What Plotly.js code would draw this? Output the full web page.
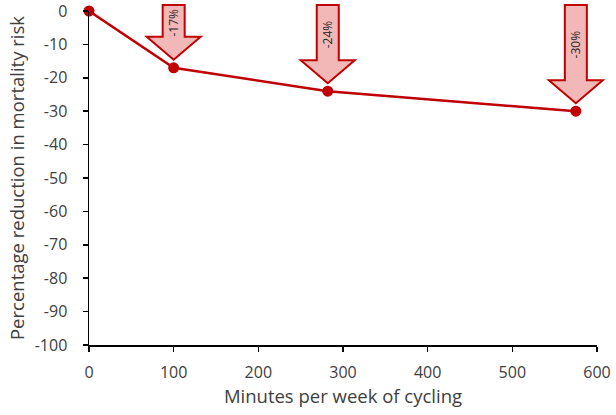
<!DOCTYPE html>
<html>
<head>
<meta charset="utf-8">
<script src="https://cdn.plot.ly/plotly-3.0.1.min.js"></script>
<style>html,body{margin:0;padding:0;background:#fff}#chart{width:616px;height:415px}</style>
</head>
<body>
<div id="chart"></div>
<script>
// Data
const minutes = [0, 100, 282, 575];
const reduction = [0, -17, -24, -30];
const arrowLabels = ["", "-17%", "-24%", "-30%"];
const xTicks = [0, 100, 200, 300, 400, 500, 600];
const yTicks = [0, -10, -20, -30, -40, -50, -60, -70, -80, -90, -100];

const W = 616, H = 415;
const margin = {l: 89, r: 19, t: 11, b: 70};
const xRange = [0, 600], yRange = [-100, 0];
const plotW = W - margin.l - margin.r, plotH = H - margin.t - margin.b;
// data -> paper fraction (so the arrows may stick out of the plot area)
const toPX = v => (v - xRange[0]) / (xRange[1] - xRange[0]);
const toPY = v => (v - yRange[0]) / (yRange[1] - yRange[0]);
const pxToPX = p => p / plotW;
const pxToPY = p => p / plotH;

const FONT = '"Open Sans", sans-serif';
const shapes = [], annotations = [];
for (let i = 0; i < minutes.length; i++) {
  if (!arrowLabels[i]) continue;
  const x = toPX(minutes[i]), y = toPY(reduction[i]);
  const tipY = y + pxToPY(8);
  const topY = toPY(0) + pxToPY(6);
  const headY = tipY + pxToPY(23);
  const sw = pxToPX(11), hw = pxToPX(27);
  const path = `M ${x - sw},${topY} L ${x + sw},${topY} L ${x + sw},${headY} L ${x + hw},${headY} L ${x},${tipY} L ${x - hw},${headY} L ${x - sw},${headY} Z`;
  shapes.push({type: 'path', xref: 'paper', yref: 'paper', path: path,
    fillcolor: '#f2b8b8', line: {color: '#c00000', width: 2}, layer: 'above'});
  annotations.push({xref: 'paper', yref: 'paper', x: x, y: (topY + headY) / 2 - pxToPY(2),
    xanchor: 'center', yanchor: 'middle',
    text: arrowLabels[i], textangle: -90, showarrow: false,
    font: {family: FONT, size: 12, color: '#262626'}});
}

const trace = {
  x: minutes, y: reduction, type: 'scatter', mode: 'lines+markers',
  line: {color: '#c00000', width: 2.5},
  marker: {color: '#c00000', size: 11},
  cliponaxis: false, hoverinfo: 'skip'
};

const tickFont = {family: FONT, size: 16, color: '#404040'};
const titleFont = {family: FONT, size: 18.5, color: '#404040'};
const layout = {
  width: W, height: H, margin: margin,
  paper_bgcolor: '#fff', plot_bgcolor: '#fff', showlegend: false,
  xaxis: {range: xRange, tickvals: xTicks, ticktext: xTicks.map(String),
    showgrid: false, zeroline: false, showline: true, linecolor: '#000', linewidth: 1.5,
    ticks: 'outside', ticklen: 5, tickcolor: '#000', tickwidth: 1.5, tickfont: tickFont,
    ticklabeloverflow: 'allow', ticklabelstandoff: 7,
    title: {text: 'Minutes per week of cycling', font: titleFont, standoff: 6},
    fixedrange: true},
  yaxis: {range: yRange, tickvals: yTicks, ticktext: yTicks.map(String),
    showgrid: false, zeroline: false, showline: true, linecolor: '#000', linewidth: 1.5,
    ticks: 'outside', ticklen: 5, tickcolor: '#000', tickwidth: 1.5, tickfont: tickFont,
    ticklabeloverflow: 'allow', ticklabelstandoff: 12,
    title: {text: 'Percentage reduction in mortality risk', font: titleFont, standoff: 5},
    fixedrange: true},
  shapes: shapes, annotations: annotations
};
Plotly.newPlot('chart', [trace], layout, {displayModeBar: false, staticPlot: true});
</script>
</body>
</html>
